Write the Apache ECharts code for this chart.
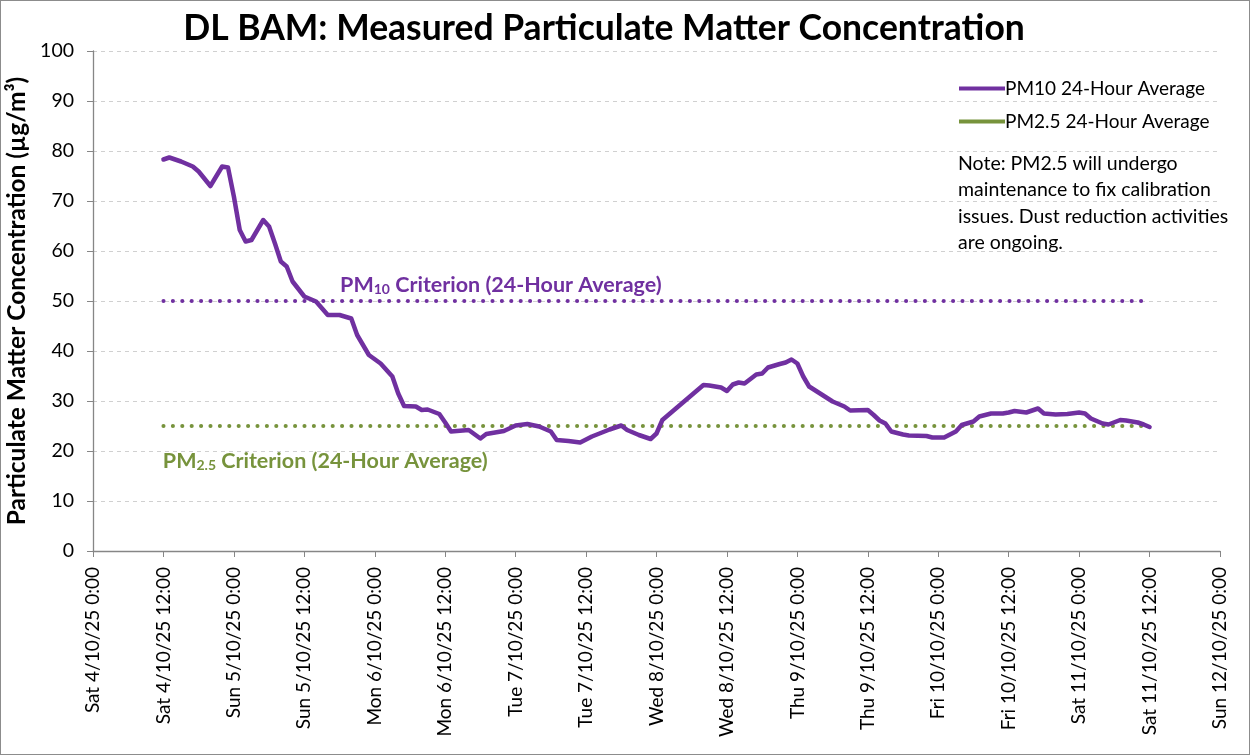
<!DOCTYPE html>
<html>
<head>
<meta charset="utf-8">
<script src="https://cdn.jsdelivr.net/npm/echarts@6/dist/echarts.min.js"></script>
<style>
html,body{margin:0;padding:0;background:#fff;}
#c{width:1248px;height:753px;border:1px solid #8c8c8c;}
</style>
</head>
<body>
<div id="c"></div>
<script>
// hours since Sat 4/10/25 0:00
const pm10Hours = [12,13,15,17,18,20,22,23,24,25,26,27,29,30,31,32,33,34,36,38,40,42,44,45,47,49,51,52,53,55,56,57,59,60,61,64,66,67,70,72,74,76,78,79,81,83,85,88,90,91,93,95,96,97,99,100,102,104,105,107,108,109,110,111,113,114,115,117,118,119,120,121,122,124,126,128,129,132,133,134,135,136,138,139,142,143,145,147,148,150,151,153,155,156,157,159,161,162,164,166,168,169,170,172,173,175,176,178,179,180];
const pm10Values = [78.3,78.7,77.9,76.9,75.9,73.0,76.9,76.7,70.9,64.2,61.9,62.2,66.2,64.9,61.5,57.9,56.9,53.9,50.9,49.9,47.2,47.2,46.5,43.2,39.2,37.5,34.9,31.5,29.0,28.9,28.2,28.3,27.4,25.7,23.9,24.2,22.5,23.4,24.0,25.1,25.4,24.9,23.9,22.2,22.0,21.7,22.9,24.3,25.1,24.2,23.2,22.4,23.5,26.2,28.2,29.2,31.2,33.2,33.1,32.7,32.0,33.3,33.7,33.5,35.3,35.5,36.7,37.4,37.7,38.3,37.5,34.9,32.9,31.4,29.9,28.9,28.1,28.2,27.2,26.1,25.5,23.9,23.3,23.1,23.0,22.7,22.7,23.9,25.2,25.9,26.9,27.5,27.5,27.7,28.0,27.7,28.5,27.5,27.3,27.4,27.7,27.5,26.5,25.5,25.3,26.2,26.1,25.7,25.3,24.8];
const pm25Values = []; // no data shown
const criterionHours = [12, 180];
const pm10Criterion = [50, 50];
const pm25Criterion = [25, 25];
const xTickLabels = ["Sat 4/10/25 0:00","Sat 4/10/25 12:00","Sun 5/10/25 0:00","Sun 5/10/25 12:00","Mon 6/10/25 0:00","Mon 6/10/25 12:00","Tue 7/10/25 0:00","Tue 7/10/25 12:00","Wed 8/10/25 0:00","Wed 8/10/25 12:00","Thu 9/10/25 0:00","Thu 9/10/25 12:00","Fri 10/10/25 0:00","Fri 10/10/25 12:00","Sat 11/10/25 0:00","Sat 11/10/25 12:00","Sun 12/10/25 0:00"];

const PURPLE = '#7030A0', GREEN = '#77933C';
const FONT = 'Lato';
const chart = echarts.init(document.getElementById('c'));
const zip = (xs, ys) => xs.map((x, i) => [x, ys[i]]);

chart.setOption({
  animation: false,
  textStyle: {fontFamily: FONT},
  title: {
    text: 'DL BAM: Measured Particulate Matter Concentration',
    left: 598, top: 5, textAlign: 'center',
    textStyle: {fontFamily: FONT, fontSize: 35.5, fontWeight: 'bold', color: '#000'}
  },
  grid: {left: 92, right: 29, top: 50, bottom: 203, containLabel: false, outerBoundsMode: 'none'},
  legend: {
    orient: 'vertical', left: 953, top: 73, itemGap: 14,
    icon: 'rect', itemWidth: 46, itemHeight: 4,
    textStyle: {fontFamily: FONT, fontSize: 19, color: '#000', padding: [0,0,0,-5]},
    data: ['PM10 24-Hour Average', 'PM2.5 24-Hour Average']
  },
  xAxis: {
    type: 'value', min: 0, max: 192, interval: 12,
    axisLine: {lineStyle: {color: '#868686', width: 1.3}},
    axisTick: {show: true, length: 6, lineStyle: {color: '#868686'}},
    splitLine: {show: false},
    axisLabel: {
      rotate: 90, fontSize: 19, color: '#000', margin: 16, fontFamily: FONT,
      formatter: v => xTickLabels[Math.round(v / 12)] || ''
    }
  },
  yAxis: {
    type: 'value', min: 0, max: 100, interval: 10,
    name: 'Particulate Matter Concentration (µg/m³)',
    nameLocation: 'middle', nameGap: 60, nameRotate: 90,
    nameTextStyle: {fontFamily: FONT, fontSize: 24.5, fontWeight: 'bold', color: '#000'},
    axisLine: {show: true, lineStyle: {color: '#868686', width: 1.3}},
    axisTick: {show: true, length: 6, lineStyle: {color: '#868686'}},
    axisLabel: {fontSize: 19.5, color: '#000', margin: 19, fontFamily: FONT},
    splitLine: {show: true, lineStyle: {color: '#d0d0d0', type: [4, 4], width: 1}}
  },
  series: [
    {
      name: 'PM10 Criterion', type: 'line', data: zip(criterionHours, pm10Criterion),
      symbol: 'none', silent: true,
      lineStyle: {color: PURPLE, width: 4, type: [0.1, 9.3], cap: 'round'}
    },
    {
      name: 'PM2.5 Criterion', type: 'line', data: zip(criterionHours, pm25Criterion),
      symbol: 'none', silent: true,
      lineStyle: {color: GREEN, width: 4, type: [0.1, 9.3], cap: 'round'}
    },
    {
      name: 'PM2.5 24-Hour Average', type: 'line', data: pm25Values,
      symbol: 'none', itemStyle: {color: GREEN}, lineStyle: {color: GREEN, width: 4}
    },
    {
      name: 'PM10 24-Hour Average', type: 'line', data: zip(pm10Hours, pm10Values),
      symbol: 'none', itemStyle: {color: PURPLE},
      lineStyle: {color: PURPLE, width: 4.5, cap: 'round', join: 'round'}
    }
  ]
});

function place() {
  const p10 = chart.convertToPixel({gridIndex: 0}, [42.1, 50]);
  const p25 = chart.convertToPixel({gridIndex: 0}, [11.9, 25]);
  const rich = c => ({
    a: {fontFamily: FONT, fontSize: 21.5, fontWeight: 'bold', fill: c, lineHeight: 28, verticalAlign: 'bottom'},
    s: {fontFamily: FONT, fontSize: 14, fontWeight: 'bold', fill: c, lineHeight: 20, verticalAlign: 'bottom'}
  });
  chart.setOption({
    graphic: [
      {type: 'text', left: p10[0], top: p10[1] - 27,
       style: {text: '{a|PM}{s|10}{a| Criterion (24-Hour Average)}', rich: rich(PURPLE)}},
      {type: 'text', left: p25[0], top: p25[1] + 24,
       style: {text: '{a|PM}{s|2.5}{a| Criterion (24-Hour Average)}', rich: rich(GREEN)}},
      {type: 'text', left: 957, top: 149,
       style: {text: 'Note: PM2.5 will undergo\nmaintenance to fix calibration\nissues. Dust reduction activities\nare ongoing.',
               fontFamily: FONT, fontSize: 19.5, lineHeight: 26.5, fill: '#000'}}
    ]
  });
}
place();
</script>
</body>
</html>
